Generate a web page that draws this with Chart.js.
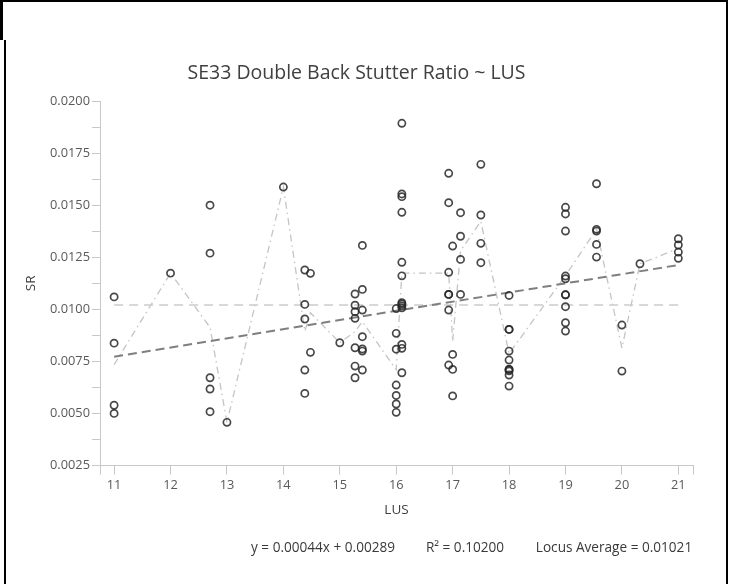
<!DOCTYPE html>
<html>
<head>
<meta charset="utf-8">
<script src="https://cdn.jsdelivr.net/npm/chart.js@4.4.1/dist/chart.umd.min.js"></script>
<style>
  html, body { margin: 0; padding: 0; background: #fff; }
  #wrap { position: relative; width: 735px; height: 584px; overflow: hidden; background: #fff; }
  #c { position: absolute; left: 0; top: 0; }
  .edge { position: absolute; background: #000; }
</style>
</head>
<body>
<div id="wrap">
  <canvas id="c" width="735" height="584"></canvas>
  <div class="edge" style="left:0;top:0;width:728px;height:2px"></div>
  <div class="edge" style="left:0;top:0;width:3px;height:40px"></div>
  <div class="edge" style="left:4px;top:40px;width:2px;height:544px"></div>
  <div class="edge" style="left:726px;top:0;width:2px;height:584px"></div>
</div>
<script>
// LUS values (x) and the stutter ratios seen at each one
var lus = [11, 12, 12.7, 13, 14, 14.38, 14.48, 15, 15.27, 15.4, 16, 16.1, 16.93, 17, 17.14, 17.5, 18, 19, 19.55, 20, 20.32, 21];
var sr = [
  [0.0106, 0.00838, 0.0054, 0.00501],
  [0.01174],
  [0.0150, 0.0127, 0.00672, 0.00618, 0.00509],
  [0.00458],
  [0.01587],
  [0.01189, 0.01024, 0.00954, 0.00709, 0.00597],
  [0.01173, 0.00794],
  [0.0084],
  [0.01074, 0.0102, 0.00989, 0.00957, 0.00816, 0.00728, 0.00672],
  [0.01307, 0.01096, 0.00997, 0.00869, 0.0081, 0.00800, 0.00709],
  [0.01004, 0.00885, 0.00809, 0.00637, 0.00587, 0.00546, 0.00506],
  [0.01893, 0.01554, 0.01541, 0.01466, 0.01226, 0.01161, 0.01032, 0.01026, 0.01017, 0.01008, 0.00832, 0.00813, 0.00696],
  [0.01653, 0.01512, 0.01178, 0.01072, 0.01072, 0.00997, 0.00733],
  [0.01304, 0.00784, 0.00712, 0.00585],
  [0.01464, 0.01351, 0.0124, 0.01072],
  [0.01696, 0.01453, 0.01317, 0.01224],
  [0.01067, 0.00904, 0.00904, 0.008, 0.00757, 0.00712, 0.00712, 0.00705, 0.00685, 0.00632],
  [0.0149, 0.01458, 0.01376, 0.0116, 0.01147, 0.0107, 0.0107, 0.01013, 0.00936, 0.00896],
  [0.01603, 0.01384, 0.01376, 0.01312, 0.01251],
  [0.00925, 0.00704],
  [0.01219],
  [0.01339, 0.01309, 0.01275, 0.01245]
];

// fit line ends and locus average
var trendX = [11, 21];
var trendY = [0.00773, 0.01213];
var locusAvg = 0.01021;

var xTicks = [11, 12, 13, 14, 15, 16, 17, 18, 19, 20, 21];
var yTickVals = [0.0025, 0.005, 0.0075, 0.01, 0.0125, 0.015, 0.0175, 0.02];
var yTickLabels = ['0.0025', '0.0050', '0.0075', '0.0100', '0.0125', '0.0150', '0.0175', '0.0200'];
var statsText = ['y = 0.00044x + 0.00289', 'R\u00B2 = 0.10200', 'Locus Average = 0.01021'];

var FONT = "'Open Sans', 'Noto Sans', sans-serif";

var points = [];
lus.forEach(function (x, i) {
  sr[i].forEach(function (v) { points.push({ x: x, y: v }); });
});

// mean of each LUS group, joined by the dash-dot line
var meanLine = lus.map(function (x, i) {
  var s = 0;
  sr[i].forEach(function (v) { s += v; });
  return { x: x, y: s / sr[i].length };
});

var statsPlugin = {
  id: 'stats',
  afterDraw: function (chart) {
    var ctx = chart.ctx;
    var xs = [323, 465, 614];
    ctx.save();
    ctx.font = "13.6px " + FONT;
    ctx.fillStyle = '#3a3a3a';
    ctx.textAlign = 'center';
    ctx.textBaseline = 'middle';
    statsText.forEach(function (t, i) { ctx.fillText(t, xs[i], 548); });
    ctx.restore();
  }
};

var ctx = document.getElementById('c');
var chart = new Chart(ctx, {
  type: 'scatter',
  data: {
    datasets: [{
      label: 'SR',
      data: points,
      pointRadius: 3.6,
      pointBorderWidth: 1.7,
      pointBorderColor: 'rgba(40, 40, 40, 0.85)',
      pointBackgroundColor: 'rgba(0, 0, 0, 0)',
      showLine: false,
      order: 0
    },
    {
      label: 'mean',
      data: meanLine,
      showLine: true,
      borderColor: '#c4c4c4',
      borderWidth: 1.3,
      borderDash: [7, 4, 1.5, 4],
      pointRadius: 0,
      order: 3
    },
    {
      label: 'average',
      data: [{ x: trendX[0], y: locusAvg }, { x: trendX[1], y: locusAvg }],
      showLine: true,
      borderColor: '#cbcbcb',
      borderWidth: 1.6,
      borderDash: [9, 6],
      pointRadius: 0,
      order: 2
    },
    {
      label: 'fit',
      data: [{ x: trendX[0], y: trendY[0] }, { x: trendX[1], y: trendY[1] }],
      showLine: true,
      borderColor: '#7f7f7f',
      borderWidth: 2,
      borderDash: [9, 5],
      pointRadius: 0,
      order: 1
    }]
  },
  options: {
    responsive: false,
    animation: false,
    layout: {
      padding: { left: 20, right: 42, top: 0, bottom: 65.9 }
    },
    plugins: {
      legend: { display: false },
      tooltip: { enabled: false },
      title: {
        display: true,
        text: 'SE33 Double Back Stutter Ratio ~ LUS',
        color: '#404040',
        font: { family: FONT, size: 19.5, weight: 'normal' },
        padding: { top: 61.3, bottom: 16.3 }
      }
    },
    scales: {
      x: {
        type: 'linear',
        min: 10.75,
        max: 21.26,
        afterBuildTicks: function (axis) {
          axis.ticks = [10.75].concat(xTicks, [21.26]).map(function (v) { return { value: v }; });
        },
        afterFit: function (axis) { axis.height = 52.4; },
        ticks: {
          autoSkip: false,
          maxRotation: 0,
          padding: 3,
          color: '#595959',
          font: { family: FONT, size: 12.8 },
          callback: function (v) { return xTicks.indexOf(v) >= 0 ? String(v) : ''; }
        },
        grid: { drawOnChartArea: false, tickLength: 9, color: '#c8c8c8' },
        border: { color: '#c8c8c8', width: 1 },
        title: {
          display: true,
          text: 'LUS',
          color: '#404040',
          font: { family: FONT, size: 13.5 },
          padding: 0
        }
      },
      y: {
        type: 'linear',
        min: 0.0025,
        max: 0.02,
        afterBuildTicks: function (axis) {
          var t = [];
          for (var i = 0; i < yTickVals.length; i++) {
            t.push({ value: yTickVals[i] });
            if (i < yTickVals.length - 1) t.push({ value: (yTickVals[i] + yTickVals[i + 1]) / 2 });
          }
          axis.ticks = t;
        },
        afterFit: function (axis) { axis.width = 80; },
        ticks: {
          autoSkip: false,
          padding: 2,
          color: '#595959',
          font: { family: FONT, size: 12.8 },
          callback: function (v) {
            for (var i = 0; i < yTickVals.length; i++) {
              if (Math.abs(yTickVals[i] - v) < 1e-9) return yTickLabels[i];
            }
            return '';
          }
        },
        grid: { drawOnChartArea: false, tickLength: 8, color: '#c8c8c8' },
        border: { color: '#c8c8c8', width: 1 },
        title: {
          display: true,
          text: 'SR',
          color: '#404040',
          font: { family: FONT, size: 13.5 },
          padding: { top: 2.9, bottom: 0 }
        }
      }
    }
  },
  plugins: [statsPlugin]
});
</script>
</body>
</html>
